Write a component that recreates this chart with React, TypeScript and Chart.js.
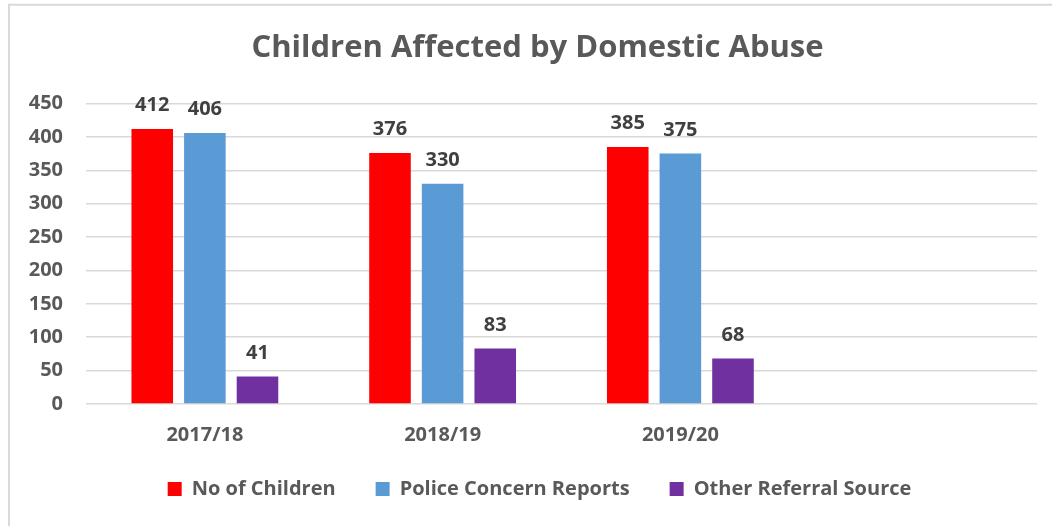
import React, { useEffect, useRef } from "react";
import { Chart, registerables } from "chart.js";

Chart.register(...registerables);

const categories = ["2017/18", "2018/19", "2019/20", ""];
const noOfChildren = [412, 376, 385, null];
const policeConcernReports = [406, 330, 375, null];
const otherReferralSource = [41, 83, 68, null];
const seriesNames = ["No of Children", "Police Concern Reports", "Other Referral Source"];
const seriesColors = ["#FF0000", "#5B9BD5", "#7030A0"];
const titleText = "Children Affected by Domestic Abuse";
const yMin = 0;
const yMax = 450;
const yStep = 50;

const FONT = "'Open Sans', 'DejaVu Sans', sans-serif";
const TEXT_COLOR = "#595959";

const frameAndBackground = {
  id: "frameAndBackground",
  beforeDraw(chart: any) {
    const ctx = chart.ctx;
    ctx.save();
    ctx.fillStyle = "#ffffff";
    ctx.fillRect(0, 0, chart.width, chart.height);
    ctx.strokeStyle = "#d9d9d9";
    ctx.lineWidth = 2;
    ctx.beginPath();
    ctx.moveTo(9, chart.height);
    ctx.lineTo(9, 4.75);
    ctx.lineTo(chart.width, 4.75);
    ctx.stroke();
    ctx.restore();
  },
};

// shift title / legend horizontally and legend vertically to match the original placement
const placeBlocks = {
  id: "placeBlocks",
  afterLayout(chart: any) {
    const t = chart.titleBlock;
    if (t) {
      t.left += 28;
    }
    const l = chart.legend;
    if (l) {
      l.left += 32;
      l.top -= 8;
      l.bottom -= 8;
    }
  },
};

const dataLabels = {
  id: "dataLabels",
  afterDatasetsDraw(chart: any) {
    const ctx = chart.ctx;
    ctx.save();
    ctx.font = `bold 20px ${FONT}`;
    ctx.fillStyle = "#404040";
    ctx.textAlign = "center";
    ctx.textBaseline = "alphabetic";
    chart.data.datasets.forEach((ds: any, i: number) => {
      const meta = chart.getDatasetMeta(i);
      meta.data.forEach((bar: any, j: number) => {
        const v = ds.data[j];
        if (v === null || v === undefined) return;
        ctx.fillText(String(v), bar.x, bar.y - 18);
      });
    });
    ctx.restore();
  },
};

export default function App() {
  const canvasRef = useRef<HTMLCanvasElement | null>(null);

  useEffect(() => {
    const canvas = canvasRef.current;
    if (!canvas) return;
    const values = [noOfChildren, policeConcernReports, otherReferralSource];
    const chart = new Chart(canvas, {
      type: "bar",
      data: {
        labels: categories,
        datasets: seriesNames.map((name, i) => ({
          label: name,
          data: values[i],
          backgroundColor: seriesColors[i],
          borderWidth: 0,
          categoryPercentage: 0.664,
          barPercentage: 0.79,
        })),
      },
      options: {
        responsive: false,
        animation: false,
        layout: { padding: { left: 10, right: 15, top: 0, bottom: 9 } },
        plugins: {
          title: {
            display: true,
            text: titleText,
            color: TEXT_COLOR,
            font: { family: FONT, size: 31, weight: "bold", lineHeight: 1.2 },
            padding: { top: 30, bottom: 36.3 },
          },
          legend: {
            display: true,
            position: "bottom",
            labels: {
              color: TEXT_COLOR,
              font: { family: FONT, size: 20, weight: "bold" },
              boxWidth: 14,
              boxHeight: 14,
              padding: 40,
            },
          },
          tooltip: { enabled: false },
        },
        scales: {
          x: {
            grid: { display: false, drawTicks: false },
            border: { display: false },
            ticks: {
              color: TEXT_COLOR,
              font: { family: FONT, size: 20, weight: "bold" },
              padding: 19,
              maxRotation: 0,
            },
            afterFit(scale: any) {
              scale.height = 43;
            },
          },
          y: {
            min: yMin,
            max: yMax,
            grid: { color: "#d9d9d9", lineWidth: 1.5, drawTicks: false },
            border: { display: false },
            ticks: {
              stepSize: yStep,
              color: TEXT_COLOR,
              font: { family: FONT, size: 20, weight: "bold" },
              padding: 23,
            },
            afterFit(scale: any) {
              scale.width = 76;
            },
          },
        },
      },
      plugins: [frameAndBackground, placeBlocks, dataLabels],
    });
    return () => chart.destroy();
  }, []);

  return (
    <div style={{ position: "fixed", left: 0, top: 0, width: 1052, height: 526, background: "#fff" }}>
      <canvas ref={canvasRef} width={1052} height={526} style={{ display: "block", width: 1052, height: 526 }} />
    </div>
  );
}
